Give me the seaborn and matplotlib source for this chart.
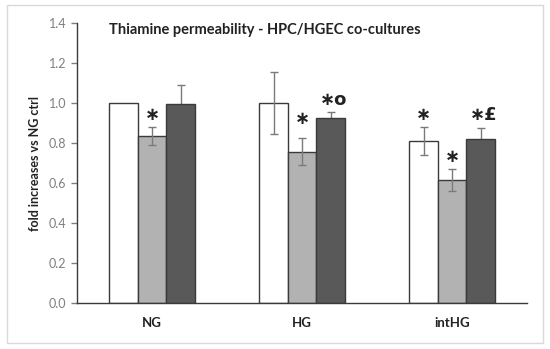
import matplotlib
matplotlib.use("Agg")
import matplotlib.pyplot as plt
import seaborn as sns
import pandas as pd
import numpy as np
from matplotlib.patches import Rectangle

# ---- data ----
categories = ["NG", "HG", "intHG"]
series = ["ctrl", "treat1", "treat2"]
values_ctrl = [1.00, 1.00, 0.81]
values_t1 = [0.835, 0.757, 0.615]
values_t2 = [0.995, 0.925, 0.82]
err_ctrl = [0.0, 0.155, 0.07]
err_t1 = [0.047, 0.068, 0.057]
err_t2 = [0.095, 0.028, 0.057]
# significance marks: (category index, series index, label, y position)
mark_cat = [0, 1, 1, 2, 2, 2]
mark_ser = [1, 1, 2, 0, 1, 2]
mark_lbl = ["\u2217", "\u2217", "\u2217o", "\u2217", "\u2217", "\u2217£"]
mark_y = [0.94, 0.92, 1.015, 0.94, 0.73, 0.94]

colors = ["#ffffff", "#b2b2b2", "#595959"]

sns.set_theme(style="white")
plt.rcParams["font.family"] = ["Lato", "DejaVu Sans"]

rows = []
for s, vals, errs in zip(series, [values_ctrl, values_t1, values_t2], [err_ctrl, err_t1, err_t2]):
    for c, v, e in zip(categories, vals, errs):
        rows.append({"cat": c, "series": s, "value": v, "err": e})
df = pd.DataFrame(rows)

fig = plt.figure(figsize=(5.5, 3.49), dpi=100)
ax = fig.add_axes([77 / 550, 1 - 303 / 349, 450 / 550, 280 / 349])

sns.barplot(data=df, x="cat", y="value", hue="series", order=categories,
            hue_order=series, palette=colors, width=0.57, errorbar=None,
            edgecolor="#3a3a3a", linewidth=1.0, saturation=1, legend=False, ax=ax)

# error bars at bar centres
bars = [p for p in ax.patches if isinstance(p, Rectangle) and p.get_width() > 0]
centers = {}
for si, s in enumerate(series):
    for ci, c in enumerate(categories):
        p = bars[si * len(categories) + ci]
        p.set_zorder(2)
        centers[(ci, si)] = p.get_x() + p.get_width() / 2
errs_all = [err_ctrl, err_t1, err_t2]
vals_all = [values_ctrl, values_t1, values_t2]
for si in range(3):
    for ci in range(3):
        e = errs_all[si][ci]
        if e > 0:
            z = 1.5 if si == 2 else 5
            ax.errorbar(centers[(ci, si)], vals_all[si][ci], yerr=e, fmt="none",
                        ecolor="#7a7a7a", elinewidth=1.0, capsize=3, capthick=1.0, zorder=z)

for ci, si, lbl, y in zip(mark_cat, mark_ser, mark_lbl, mark_y):
    ax.text(centers[(ci, si)] + (0.02 if len(lbl) > 1 else 0), y, lbl, ha="center", va="center",
            fontsize=13, fontweight="bold", color="#222222", zorder=6,
            family=["DejaVu Sans"])

ax.set_ylim(0, 1.4)
ax.set_xlim(-0.5, 2.5)
ax.set_yticks(np.arange(0, 1.41, 0.2))
ax.set_yticklabels([f"{t:.1f}" for t in np.arange(0, 1.41, 0.2)])
ax.tick_params(axis="y", colors="#7f7f7f", labelsize=9, length=4, width=1, direction="out", left=True)
ax.tick_params(axis="x", length=0, labelsize=9.5, labelcolor="#222222", pad=10)
for lab in ax.get_xticklabels():
    lab.set_fontweight("bold")
ax.set_xlabel("")
ax.set_ylabel("fold increases vs NG ctrl", fontsize=9, fontweight="bold", color="#222222", labelpad=6)
for side in ["top", "right"]:
    ax.spines[side].set_visible(False)
ax.spines["left"].set_color("#3a3a3a")
ax.spines["bottom"].set_color("#3a3a3a")
ax.spines["left"].set_linewidth(1.0)
ax.spines["bottom"].set_linewidth(1.0)

ax.text(0.07, 0.975, "Thiamine permeability - HPC/HGEC co-cultures", transform=ax.transAxes,
        ha="left", va="center", fontsize=10.5, fontweight="bold", color="#222222")

fig.patches.append(Rectangle((7 / 550, 1 - 343 / 349), 536 / 550, 338 / 349,
                             transform=fig.transFigure, fill=False,
                             edgecolor="#d9d9d9", linewidth=1.0))

fig.savefig("out.png", dpi=100)
